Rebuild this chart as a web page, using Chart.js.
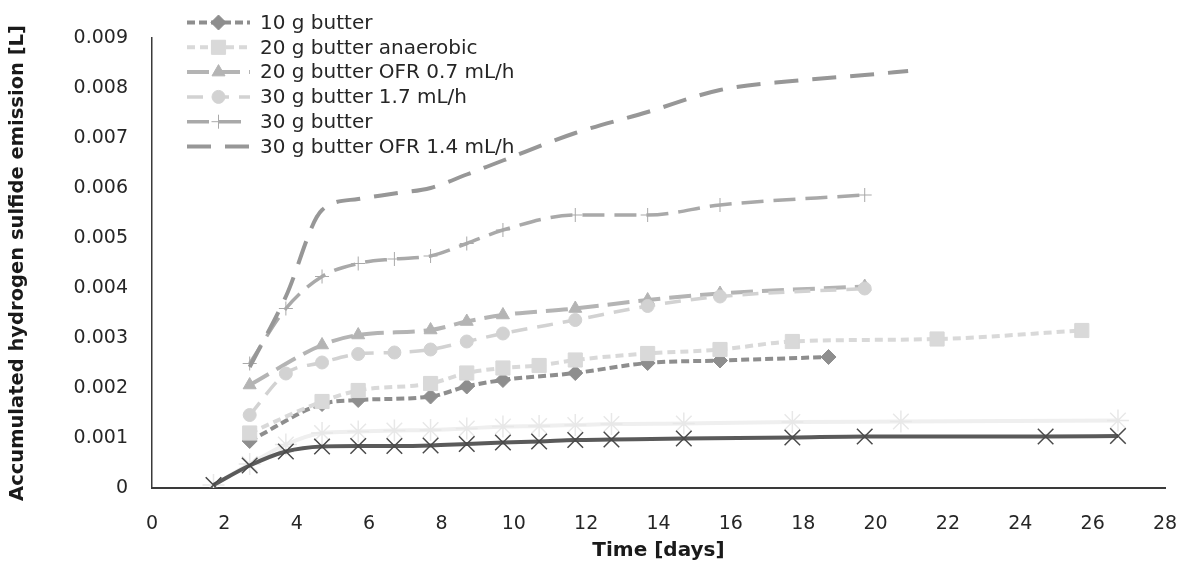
<!DOCTYPE html>
<html>
<head>
<meta charset="utf-8">
<title>Accumulated hydrogen sulfide emission</title>
<script src="https://cdn.jsdelivr.net/npm/chart.js@4/dist/chart.umd.min.js"></script>
<style>
  html, body { margin: 0; padding: 0; background: #fff; }
  #wrap { width: 1184px; height: 565px; position: relative; }
</style>
</head>
<body>
<div id="wrap"><canvas id="h2sChart"></canvas></div>
<script>
// Time points (days) and accumulated H2S volume (L) per run
const days10 = [2.7, 4.7, 5.7, 7.7, 8.7, 9.7, 11.7, 13.7, 15.7, 18.7];
const butter10 = [0.00094, 0.00168, 0.00176, 0.00183, 0.00203, 0.00216, 0.0023, 0.0025, 0.00255, 0.00262];

const daysAnaerobic = [2.7, 4.7, 5.7, 7.7, 8.7, 9.7, 10.7, 11.7, 13.7, 15.7, 17.7, 21.7, 25.7];
const butter20Anaerobic = [0.0011, 0.00173, 0.00195, 0.00209, 0.0023, 0.0024, 0.00245, 0.00256, 0.00269, 0.00277, 0.00293, 0.00298, 0.00315];

const daysOfr07 = [2.7, 4.7, 5.7, 7.7, 8.7, 9.7, 11.7, 13.7, 15.7, 19.7];
const butter20Ofr07 = [0.00206, 0.00286, 0.00306, 0.00316, 0.00333, 0.00346, 0.00359, 0.00376, 0.00389, 0.00403];

const days30 = [2.7, 3.7, 4.7, 5.7, 6.7, 7.7, 8.7, 9.7, 11.7, 13.7, 15.7, 19.7];
const butter30Flow17 = [0.00146, 0.00229, 0.00251, 0.00268, 0.00271, 0.00277, 0.00293, 0.00309, 0.00336, 0.00364, 0.00383, 0.00399];
const butter30 = [0.00249, 0.00359, 0.00423, 0.00449, 0.00458, 0.00464, 0.00489, 0.00516, 0.00546, 0.00546, 0.00566, 0.00586];

const daysOfr14 = [2.7, 3.7, 4.7, 5.7, 6.7, 7.7, 8.7, 9.7, 11.7, 13.7, 15.7, 17.7, 19.7, 20.9];
const butter30Ofr14 = [0.00242, 0.00383, 0.00556, 0.00578, 0.00589, 0.006, 0.00627, 0.00655, 0.0071, 0.00752, 0.00796, 0.00814, 0.00826, 0.00834];

// two reference runs shown without legend entries
const daysRefLight = [1.7, 2.7, 3.7, 4.7, 5.7, 6.7, 7.7, 8.7, 9.7, 10.7, 11.7, 12.7, 14.7, 17.7, 20.7, 26.7];
const refLight = [0.00006, 0.00048, 0.00087, 0.0011, 0.00113, 0.00115, 0.00116, 0.00119, 0.00123, 0.00124, 0.00126, 0.00128, 0.00129, 0.00132, 0.00133, 0.00135];

const daysRefDark = [1.7, 2.7, 3.7, 4.7, 5.7, 6.7, 7.7, 8.7, 9.7, 10.7, 11.7, 12.7, 14.7, 17.7, 19.7, 24.7, 26.7];
const refDark = [0.00006, 0.00045, 0.00073, 0.00083, 0.00084, 0.00084, 0.00085, 0.00088, 0.00091, 0.00093, 0.00096, 0.00097, 0.00099, 0.00101, 0.00103, 0.00103, 0.00104];

const legendLabels = [
    '10 g butter',
    '20 g butter anaerobic',
    '20 g butter OFR 0.7 mL/h',
    '30 g butter 1.7 mL/h',
    '30 g butter',
    '30 g butter OFR 1.4 mL/h'
];

const toPoints = (xs, ys) => xs.map((x, i) => ({ x: x, y: ys[i] }));

function serie(label, xs, ys, color, width, dash, style, radius, markerColor, markerBorder) {
    return {
        label: label,
        data: toPoints(xs, ys),
        borderColor: color,
        borderWidth: width,
        borderDash: dash,
        pointStyle: style,
        pointRadius: radius,
        pointHoverRadius: radius,
        pointBackgroundColor: markerColor,
        pointBorderColor: markerColor,
        pointBorderWidth: markerBorder,
        cubicInterpolationMode: 'monotone',
        fill: false
    };
}

const datasets = [
    serie(legendLabels[0], days10, butter10, '#8e8e8e', 4, [8, 4], 'rectRot', 7.5, '#8e8e8e', 1),
    serie(legendLabels[1], daysAnaerobic, butter20Anaerobic, '#d9d9d9', 4, [8, 5], 'rect', 10, '#d9d9d9', 1),
    serie(legendLabels[2], daysOfr07, butter20Ofr07, '#b4b4b4', 4, [22, 9], 'triangle', 7.5, '#b4b4b4', 1),
    serie(legendLabels[3], days30, butter30Flow17, '#d2d2d2', 3.5, [16, 10], 'circle', 6.5, '#d2d2d2', 1),
    serie(legendLabels[4], days30, butter30, '#a9a9a9', 3.5, [22, 10], 'cross', 7, '#a9a9a9', 1),
    serie(legendLabels[5], daysOfr14, butter30Ofr14, '#979797', 4, [24, 14], false, 0, '#979797', 0),
    serie('', daysRefLight, refLight, '#efefef', 4, [], 'star', 11, '#e8e8e8', 1.5),
    serie('', daysRefDark, refDark, '#5a5a5a', 4, [], 'crossRot', 11, '#4a4a4a', 1.5)
];
// later runs sit on top of earlier ones
datasets.forEach((ds, i) => { ds.order = datasets.length - i; });

// legend drawn by hand: dashed sample line with the marker in the middle
const sampleLegend = {
    id: 'sampleLegend',
    afterDraw(chart) {
        const ctx = chart.ctx;
        legendLabels.forEach((text, i) => {
            const ds = chart.data.datasets[i];
            const y = 22.5 + i * 24.8;
            ctx.save();
            ctx.strokeStyle = ds.borderColor;
            ctx.lineWidth = ds.borderWidth;
            ctx.setLineDash(ds.borderDash);
            ctx.beginPath();
            ctx.moveTo(187, y);
            ctx.lineTo(250, y);
            ctx.stroke();
            ctx.setLineDash([]);
            if (ds.pointStyle) {
                ctx.fillStyle = ds.pointBackgroundColor;
                ctx.strokeStyle = ds.pointBorderColor;
                ctx.lineWidth = ds.pointBorderWidth;
                Chart.helpers.drawPoint(ctx, {
                    pointStyle: ds.pointStyle,
                    radius: ds.pointRadius,
                    rotation: 0,
                    borderWidth: ds.pointBorderWidth
                }, 218.5, y);
            }
            ctx.fillStyle = '#262626';
            ctx.font = '20px "DejaVu Sans"';
            ctx.textBaseline = 'middle';
            ctx.textAlign = 'left';
            ctx.fillText(text, 260, y + 1);
            ctx.restore();
        });
    }
};

const ctx = document.getElementById('h2sChart').getContext('2d');
const h2sChart = new Chart(ctx, {
    type: 'line',
    data: { datasets: datasets },
    options: {
        responsive: true,
        maintainAspectRatio: false,
        animation: false,
        layout: { padding: { top: 38, right: 19, left: 0, bottom: 0 } },
        plugins: {
            legend: { display: false },
            tooltip: { enabled: false }
        },
        scales: {
            x: {
                type: 'linear',
                min: 0,
                max: 28,
                // fixed axis band; end labels may overhang the plot edges
                afterFit: scale => {
                    scale.height = 77;
                    scale.paddingLeft = 0;
                    scale.paddingRight = 0;
                },
                grid: { display: false, drawTicks: false },
                border: { display: true, color: '#3a3a3a', width: 2 },
                ticks: {
                    stepSize: 2,
                    padding: 25,
                    color: '#262626',
                    font: { family: 'DejaVu Sans', size: 19 }
                },
                title: {
                    display: true,
                    text: 'Time [days]',
                    color: '#1a1a1a',
                    padding: { top: 2, bottom: 2 },
                    font: { family: 'DejaVu Sans', size: 20, weight: 'bold' }
                }
            },
            y: {
                min: 0,
                max: 0.009,
                afterFit: scale => {
                    scale.width = 152;
                    scale.paddingTop = 0;
                    scale.paddingBottom = 0;
                },
                grid: { display: false, drawTicks: false },
                border: { display: true, color: '#3a3a3a', width: 1.5 },
                ticks: {
                    stepSize: 0.001,
                    padding: 24,
                    color: '#262626',
                    font: { family: 'DejaVu Sans', size: 19 },
                    callback: v => (v === 0 ? '0' : v.toFixed(3))
                },
                title: {
                    display: true,
                    text: 'Accumulated hydrogen sulfide emission [L]',
                    color: '#1a1a1a',
                    padding: { top: 6, bottom: 6 },
                    font: { family: 'DejaVu Sans', size: 19.5, weight: 'bold' }
                }
            }
        }
    },
    plugins: [sampleLegend]
});
</script>
</body>
</html>
